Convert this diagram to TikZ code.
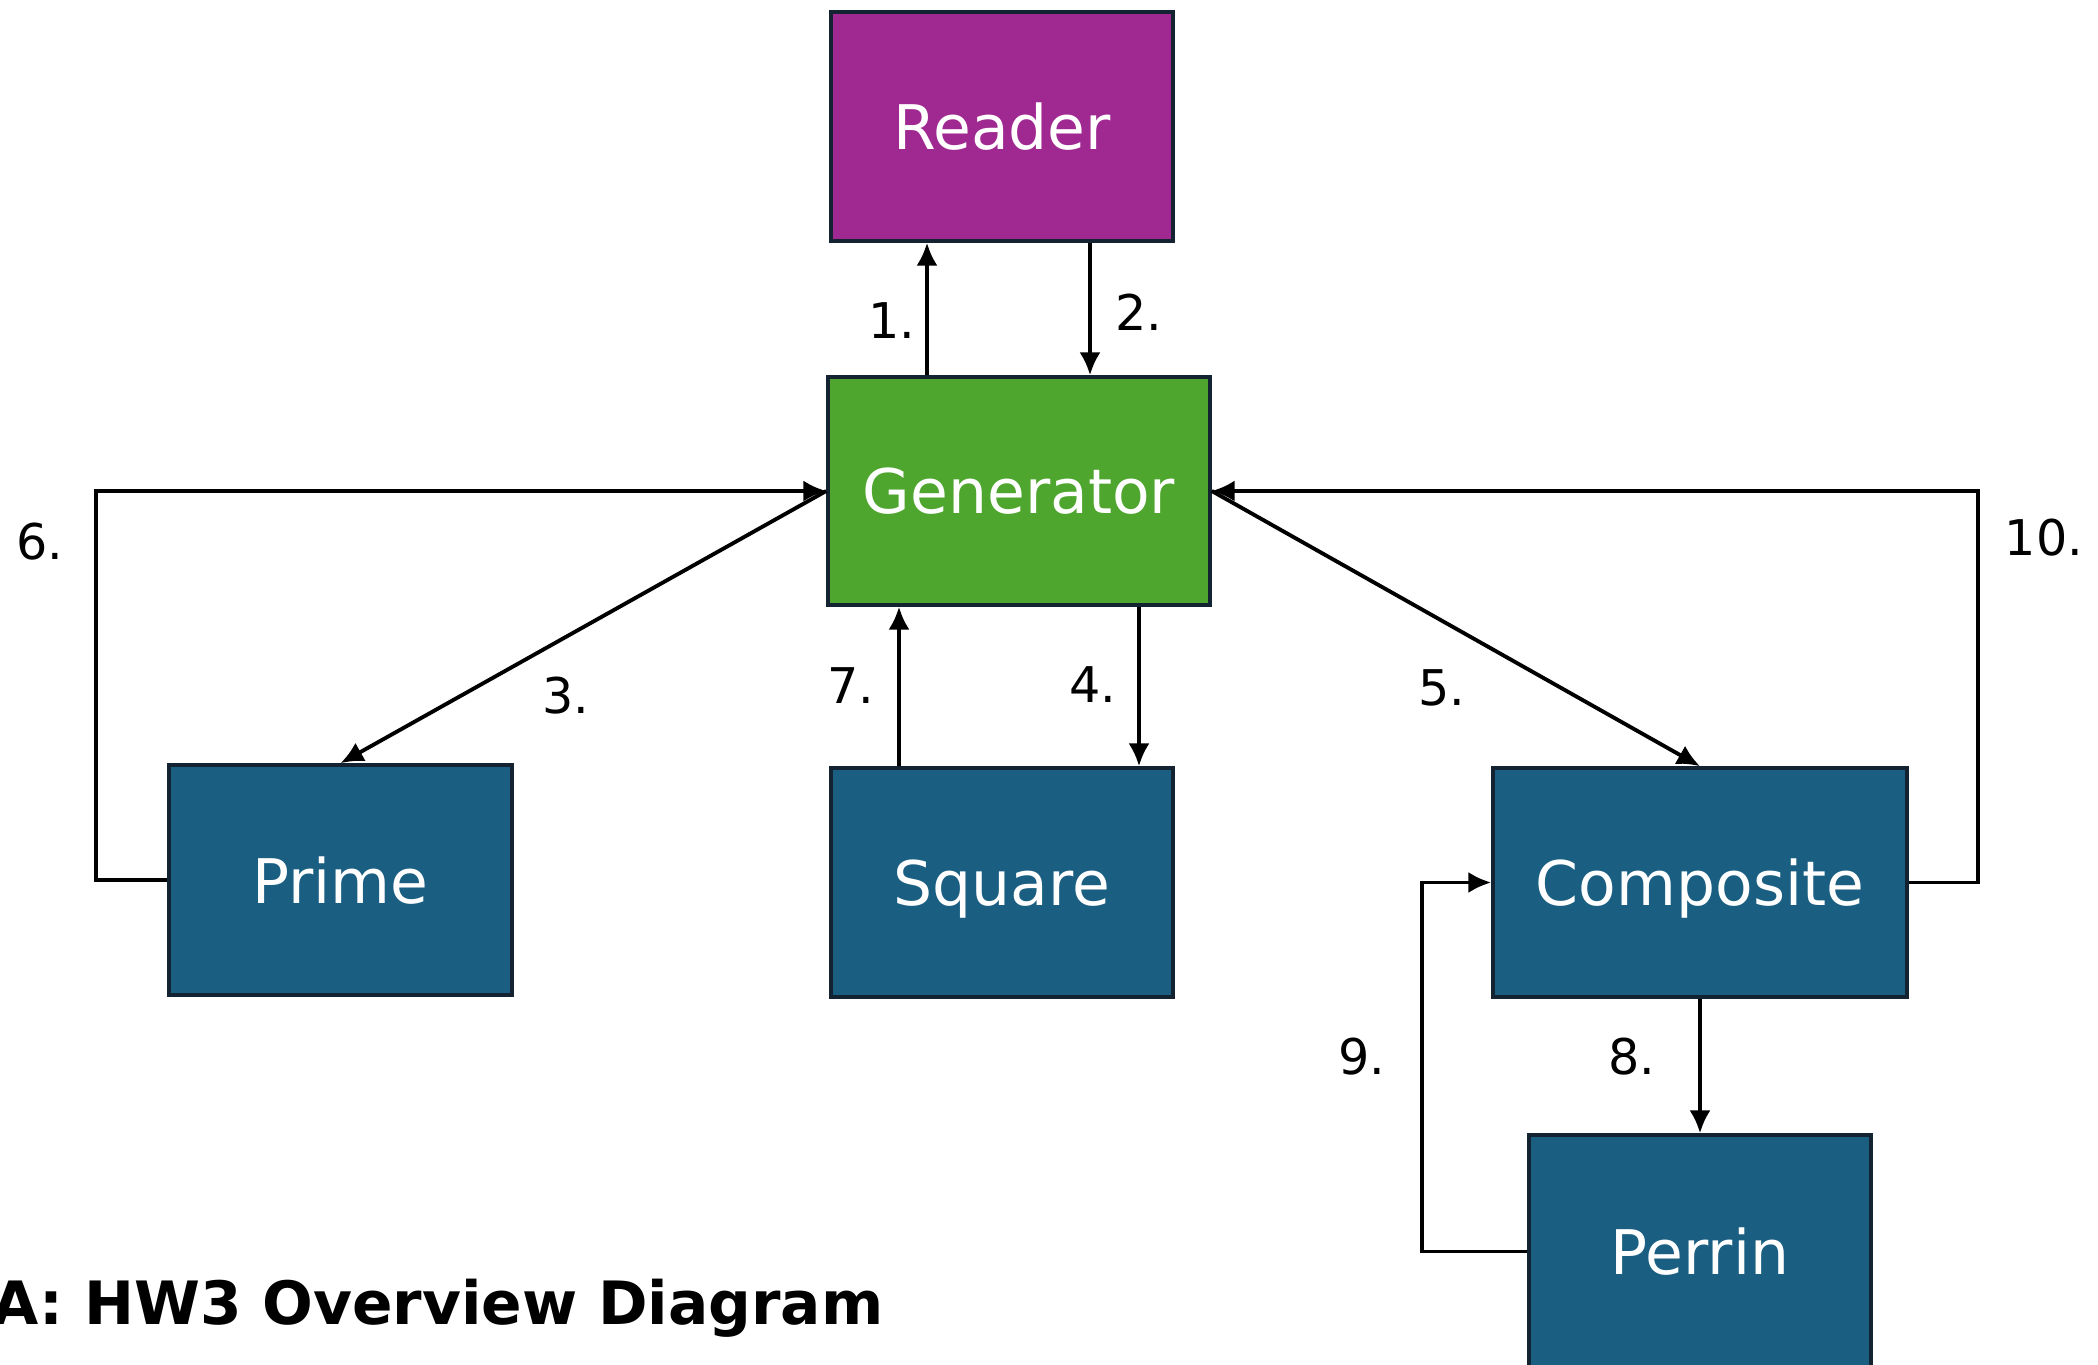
\documentclass[tikz,border=0pt]{standalone}
\usepackage{fontspec}
\usepackage{xcolor}
\usetikzlibrary{arrows.meta,positioning}
\setmainfont{DejaVu Sans}
\definecolor{readerpurple}{RGB}{160,40,145}
\definecolor{gengreen}{RGB}{78,166,46}
\definecolor{workblue}{RGB}{26,94,130}
\definecolor{boxedge}{RGB}{20,35,50}

\begin{document}
\begin{tikzpicture}[
    box/.style={draw=boxedge, line width=1pt, text=white, font=\fontsize{17.5}{20}\selectfont,
                minimum width=3.42cm, minimum height=2.29cm, inner sep=0pt, text depth=0pt},
    flow/.style={-{Latex[length=6.5pt,width=6pt]}, line width=1.1pt, black},
    lbl/.style={font=\fontsize{14}{16}\selectfont, inner sep=0pt}
  ]
  \useasboundingbox (0,0) rectangle (20.98,13.65);

  % boxes
  \node[box, fill=readerpurple] (reader) at (10.02,12.385) {Reader};
  \node[box, fill=gengreen, minimum width=3.82cm, minimum height=2.28cm] (gen) at (10.19,8.74) {Generator};
  \node[box, fill=workblue, minimum width=3.43cm, minimum height=2.30cm] (prime) at (3.405,4.85) {Prime};
  \node[box, fill=workblue] (square) at (10.02,4.825) {Square};
  \node[box, fill=workblue, minimum width=4.14cm] (comp) at (17.00,4.825) {Composite};
  \node[box, fill=workblue, minimum height=2.33cm] (perrin) at (17.00,1.135) {Perrin};

  % Reader <-> Generator
  \draw[flow] ([xshift=-0.92cm]gen.north) -- ([xshift=-0.75cm]reader.south);
  \draw[flow] ([xshift=0.88cm]reader.south) -- ([xshift=0.71cm]gen.north);

  % Generator -> workers
  \draw[flow] (gen.west) -- (prime.north);
  \draw[flow] ([xshift=1.20cm]gen.south) -- ([xshift=1.37cm]square.north);
  \draw[flow] (gen.east) -- (comp.north);

  % results back to Generator
  \draw[flow] (prime.west) -- ++(-0.71,0) |- (gen.west);
  \draw[flow] ([xshift=-1.03cm]square.north) -- ([xshift=-1.20cm]gen.south);
  \draw[flow] (comp.east) -- ++(0.69,0) |- (gen.east);

  % Composite <-> Perrin
  \draw[flow] (comp.south) -- (perrin.north);
  \draw[flow] (perrin.west) -- ++(-1.05,0) |- (comp.west);

  % step numbers
  \node[lbl] (n1) at (8.92,10.44) {1.};
  \node[lbl] (n2) at (11.39,10.53) {2.};
  \node[lbl] (n3) at (5.66,6.69) {3.};
  \node[lbl] (n4) at (10.93,6.80) {4.};
  \node[lbl] (n5) at (14.42,6.77) {5.};
  \node[lbl] (n6) at (0.40,8.23) {6.};
  \node[lbl] (n7) at (8.51,6.79) {7.};
  \node[lbl] (n8) at (16.32,3.08) {8.};
  \node[lbl] (n9) at (13.62,3.08) {9.};
  \node[lbl] (n10) at (20.44,8.27) {10.};

  % caption
  \node[anchor=base east, inner sep=0pt, font=\fontsize{17}{20}\selectfont\bfseries] (caption) at (8.84,0.40)
    {A: HW3 Overview Diagram};
\end{tikzpicture}
\end{document}
